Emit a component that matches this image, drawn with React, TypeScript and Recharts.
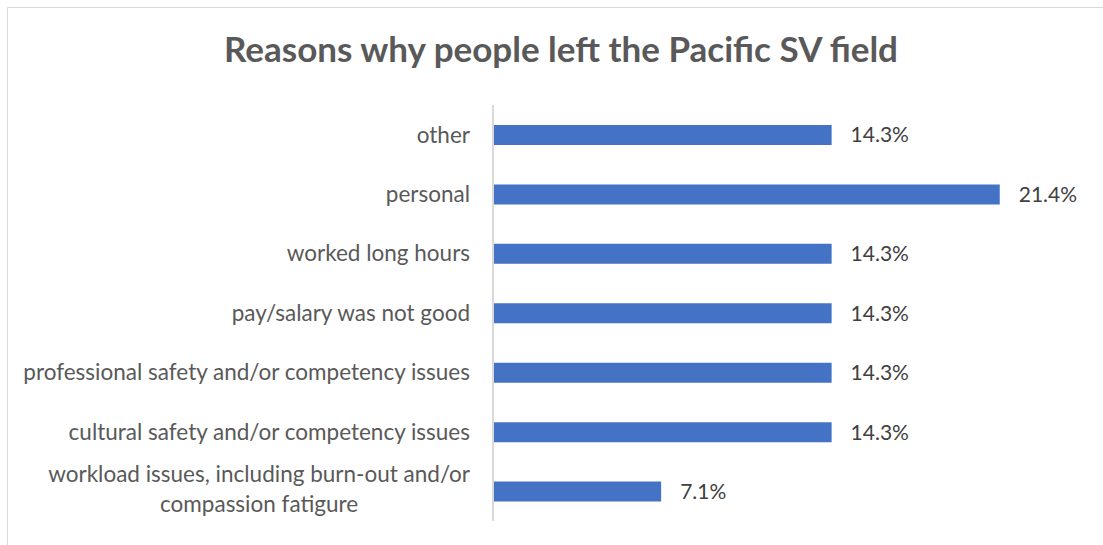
import { BarChart, Bar, XAxis, YAxis, LabelList } from "recharts";

const reasons = [
  "other",
  "personal",
  "worked long hours",
  "pay/salary was not good",
  "professional safety and/or competency issues",
  "cultural safety and/or competency issues",
  "workload issues, including burn-out and/or compassion fatigure",
];

const shares = [0.143, 0.214, 0.143, 0.143, 0.143, 0.143, 0.071];

// long labels get split across two lines, like the original
const labelLines: Record<string, string[]> = {
  "workload issues, including burn-out and/or compassion fatigure": [
    "workload issues, including burn-out and/or",
    "compassion fatigure",
  ],
};

const data = reasons.map((reason, i) => ({ reason, share: shares[i] }));

const FONT = "Lato, 'Open Sans', sans-serif";
const TICK_SIZE = 22.5;

let measureCtx: CanvasRenderingContext2D | null = null;
function textWidth(s: string) {
  if (!measureCtx) measureCtx = document.createElement("canvas").getContext("2d");
  if (!measureCtx) return s.length * TICK_SIZE * 0.5;
  measureCtx.font = `${TICK_SIZE}px Lato`;
  return measureCtx.measureText(s).width;
}

function ReasonTick(props: any) {
  const { x, y, payload } = props;
  const lines = labelLines[payload.value] ?? [payload.value];
  if (lines.length === 1) {
    return (
      <text x={x} y={y} dy="0.35em" textAnchor="end" fill="#595959" fontSize={TICK_SIZE} fontFamily={FONT}>
        {payload.value}
      </text>
    );
  }
  // wrapped labels are centred as a block, right edge on the tick position
  const lineHeight = 30;
  const blockW = Math.max(...lines.map(textWidth));
  const cx = x - blockW / 2;
  const startY = y - 2 - ((lines.length - 1) * lineHeight) / 2;
  return (
    <text x={cx} y={startY} textAnchor="middle" fill="#595959" fontSize={TICK_SIZE} fontFamily={FONT}>
      {lines.map((line, i) => (
        <tspan key={i} x={cx} y={startY + i * lineHeight} dy="0.35em">
          {line}
        </tspan>
      ))}
    </text>
  );
}

export default function App() {
  return (
    <div
      style={{
        position: "absolute",
        left: 0,
        top: 0,
        width: 1103,
        height: 545,
        background: "#fff",
        overflow: "hidden",
        fontFamily: FONT,
      }}
    >
      <div
        style={{
          position: "absolute",
          left: 7,
          top: 7,
          width: 1110,
          height: 560,
          border: "1px solid #d9d9d9",
          boxSizing: "border-box",
        }}
      />
      <div
        style={{
          position: "absolute",
          left: 0,
          top: 27,
          width: 1122,
          textAlign: "center",
          fontSize: 35,
          fontWeight: 700,
          color: "#595959",
        }}
      >
        Reasons why people left the Pacific SV field
      </div>
      <BarChart
        width={1103}
        height={545}
        data={data}
        layout="vertical"
        margin={{ top: 105, right: 18, bottom: 24, left: 0 }}
        style={{ position: "absolute", left: 0, top: 0 }}
      >
        <XAxis type="number" domain={[0, 0.25]} hide />
        <YAxis
          type="category"
          dataKey="reason"
          width={493}
          axisLine={{ stroke: "#d9d9d9", strokeWidth: 2 }}
          tickLine={false}
          tickMargin={17}
          tick={<ReasonTick />}
          interval={0}
        />
        <Bar dataKey="share" fill="#4472C4" barSize={20} isAnimationActive={false}>
          <LabelList
            dataKey="share"
            position="right"
            offset={19}
            fill="#404040"
            fontSize={21}
            fontFamily={FONT}
            formatter={(v: any) => `${(Number(v) * 100).toFixed(1)}%`}
          />
        </Bar>
      </BarChart>
    </div>
  );
}
